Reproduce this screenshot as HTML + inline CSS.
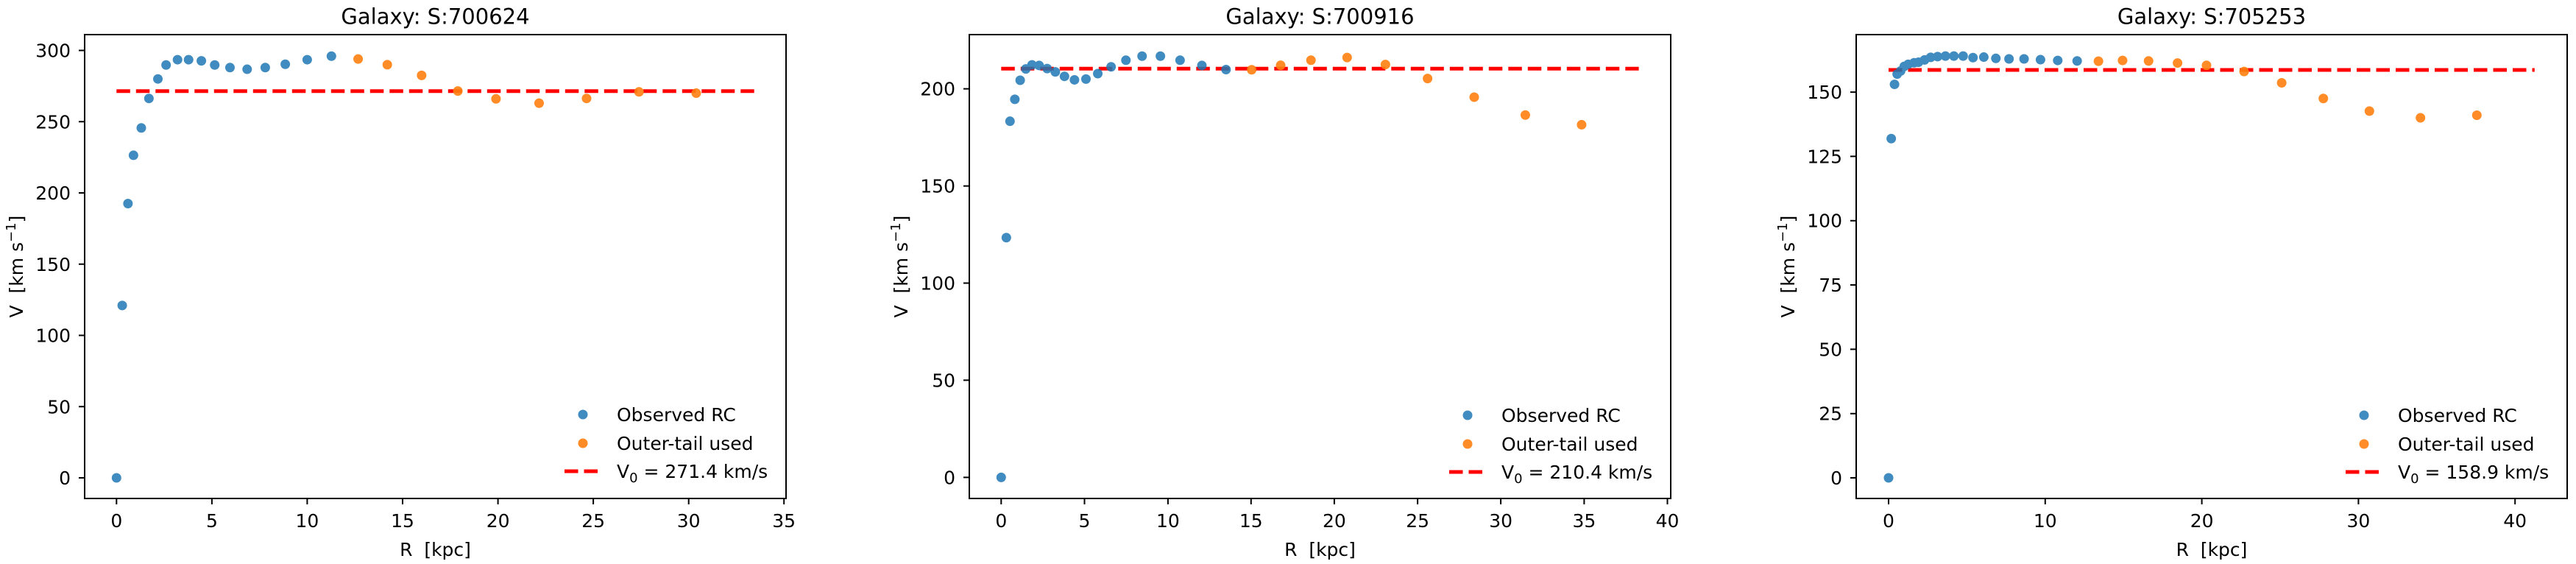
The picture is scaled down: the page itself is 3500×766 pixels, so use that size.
<!DOCTYPE html>
<html><head><meta charset="utf-8"><style>
html,body{margin:0;padding:0;background:#fff}
svg{display:block}
text{font-family:"DejaVu Sans","Liberation Sans",sans-serif;fill:#000}
.t{font-size:25px}
.ti{font-size:29px}
.dot{fill:none;stroke-linecap:round;stroke-width:13;vector-effect:non-scaling-stroke}
.b{stroke:#1f77b4;stroke-opacity:.85}
.o{stroke:#ff7f0e;stroke-opacity:.9}
.ax{fill:none;stroke:#000;stroke-width:2}
.tk{stroke:#000;stroke-width:2}
.red{stroke:#ff0000;stroke-width:5;stroke-dasharray:18.5 8}
</style></head><body>
<svg width="3500" height="766" viewBox="0 0 3500 766" xmlns="http://www.w3.org/2000/svg">
<rect width="3500" height="766" fill="#fff"/>

<!-- PANEL 1 -->
<line class="red" x1="158.3" y1="123.8" x2="1024.7" y2="123.8"/>
<g transform="matrix(25.91,0,0,-1.935,158.3,649)">
<path class="dot b" d="M0 0h0M0.3 121h0M0.6 192.5h0M0.89 226.4h0M1.3 245.6h0M1.7 266.3h0M2.17 280h0M2.6 289.8h0M3.2 293.5h0M3.78 293.5h0M4.45 292.7h0M5.15 289.8h0M5.95 288h0M6.85 286.8h0M7.8 288h0M8.85 290.3h0M10 293.5h0M11.27 296h0"/>
<path class="dot o" d="M12.67 294h0M14.2 290h0M16.0 282.5h0M17.9 271.5h0M19.9 266h0M22.16 263h0M24.65 266.3h0M27.4 270.9h0M30.4 270h0"/>
</g>
<rect class="ax" x="115" y="47" width="953" height="630"/>
<g class="tk">
<path d="M158.3 677v8M287.9 677v8M417.4 677v8M547 677v8M676.6 677v8M806.1 677v8M935.7 677v8M1065.2 677v8M115 649h-8M115 552.3h-8M115 455.5h-8M115 358.8h-8M115 262h-8M115 165.3h-8M115 68.5h-8"/>
</g>
<g class="t" text-anchor="middle">
<text x="158.3" y="716">0</text><text x="287.9" y="716">5</text><text x="417.4" y="716">10</text><text x="547" y="716">15</text><text x="676.6" y="716">20</text><text x="806.1" y="716">25</text><text x="935.7" y="716">30</text><text x="1065.2" y="716">35</text>
</g>
<g class="t" text-anchor="end">
<text x="96" y="658">0</text><text x="96" y="561.3">50</text><text x="96" y="464.5">100</text><text x="96" y="367.8">150</text><text x="96" y="271">200</text><text x="96" y="174.3">250</text><text x="96" y="77.5">300</text>
</g>
<text class="ti" x="591.5" y="32.5" text-anchor="middle">Galaxy: S:700624</text>
<text class="t" x="591.5" y="755" text-anchor="middle" xml:space="preserve">R  [kpc]</text>
<text class="t" transform="translate(31,362) rotate(-90)" text-anchor="middle" xml:space="preserve">V  [km s<tspan font-size="18" dy="-10">−1</tspan><tspan dy="10">]</tspan></text>
<g>
<circle cx="792" cy="563" r="6.5" fill="#1f77b4" fill-opacity=".85"/>
<circle cx="792" cy="602" r="6.5" fill="#ff7f0e" fill-opacity=".9"/>
<line class="red" x1="767" y1="640" x2="812" y2="640"/>
<text class="t" x="838" y="572">Observed RC</text>
<text class="t" x="838" y="611">Outer-tail used</text>
<text class="t" x="838" y="649">V<tspan font-size="18" dy="6">0</tspan><tspan dy="-6"> = 271.4 km/s</tspan></text>
</g>

<!-- PANEL 2 -->
<line class="red" x1="1360.3" y1="93.2" x2="2226.6" y2="93.2"/>
<g transform="matrix(22.63,0,0,-2.639,1360.3,648.4)">
<path class="dot b" d="M0 0h0M0.31 123.4h0M0.53 183.3h0M0.82 194.6h0M1.14 204.4h0M1.48 210.2h0M1.85 212.3h0M2.28 212h0M2.76 210.4h0M3.25 208.7h0M3.8 206.4h0M4.4 204.6h0M5.09 205h0M5.8 207.8h0M6.6 211.3h0M7.49 214.7h0M8.46 216.8h0M9.56 216.8h0M10.74 214.7h0M12.05 212h0M13.5 209.9h0"/>
<path class="dot o" d="M15.04 209.8h0M16.78 212.1h0M18.6 214.7h0M20.77 216.1h0M23.07 212.5h0M25.6 205.3h0M28.4 195.7h0M31.47 186.5h0M34.85 181.5h0"/>
</g>
<rect class="ax" x="1317" y="47" width="953" height="630"/>
<g class="tk">
<path d="M1360.3 677v8M1473.5 677v8M1586.9 677v8M1699.8 677v8M1812.9 677v8M1926.1 677v8M2039.1 677v8M2152.4 677v8M2265.5 677v8M1317 648.4h-8M1317 516.4h-8M1317 384.5h-8M1317 252.6h-8M1317 120.6h-8"/>
</g>
<g class="t" text-anchor="middle">
<text x="1360.3" y="716">0</text><text x="1473.5" y="716">5</text><text x="1586.9" y="716">10</text><text x="1699.8" y="716">15</text><text x="1812.9" y="716">20</text><text x="1926.1" y="716">25</text><text x="2039.1" y="716">30</text><text x="2152.4" y="716">35</text><text x="2265.5" y="716">40</text>
</g>
<g class="t" text-anchor="end">
<text x="1298" y="657.4">0</text><text x="1298" y="525.4">50</text><text x="1298" y="393.5">100</text><text x="1298" y="261.6">150</text><text x="1298" y="129.6">200</text>
</g>
<text class="ti" x="1793.5" y="32.5" text-anchor="middle">Galaxy: S:700916</text>
<text class="t" x="1793.5" y="755" text-anchor="middle" xml:space="preserve">R  [kpc]</text>
<text class="t" transform="translate(1233,362) rotate(-90)" text-anchor="middle" xml:space="preserve">V  [km s<tspan font-size="18" dy="-10">−1</tspan><tspan dy="10">]</tspan></text>
<g>
<circle cx="1994" cy="564" r="6.5" fill="#1f77b4" fill-opacity=".85"/>
<circle cx="1994" cy="603" r="6.5" fill="#ff7f0e" fill-opacity=".9"/>
<line class="red" x1="1969" y1="641" x2="2014" y2="641"/>
<text class="t" x="2040" y="573">Observed RC</text>
<text class="t" x="2040" y="612">Outer-tail used</text>
<text class="t" x="2040" y="650">V<tspan font-size="18" dy="6">0</tspan><tspan dy="-6"> = 210.4 km/s</tspan></text>
</g>

<!-- PANEL 3 -->
<line class="red" x1="2566" y1="95" x2="3443.8" y2="95"/>
<g transform="matrix(21.28,0,0,-3.493,2566,649)">
<path class="dot b" d="M0 0h0M0.17 131.9h0M0.38 153h0M0.55 157h0M0.77 158.2h0M1.0 160h0M1.25 160.8h0M1.63 161.4h0M1.91 161.6h0M2.3 162.5h0M2.69 163.5h0M3.13 163.8h0M3.63 164h0M4.17 164h0M4.76 164h0M5.39 163.4h0M6.08 163.6h0M6.85 163.1h0M7.69 162.9h0M8.65 162.9h0M9.7 162.6h0M10.8 162.3h0M12.04 162.1h0"/>
<path class="dot o" d="M13.4 162h0M14.94 162.3h0M16.6 162.1h0M18.45 161.3h0M20.3 160.4h0M22.7 158h0M25.1 153.6h0M27.76 147.5h0M30.7 142.6h0M33.96 140h0M37.56 141h0"/>
</g>
<rect class="ax" x="2522" y="47" width="966" height="630"/>
<g class="tk">
<path d="M2566 677v8M2778.8 677v8M2991.6 677v8M3204.4 677v8M3417.2 677v8M2522 649h-8M2522 561.7h-8M2522 474.4h-8M2522 387h-8M2522 299.7h-8M2522 212.4h-8M2522 125.1h-8"/>
</g>
<g class="t" text-anchor="middle">
<text x="2566" y="716">0</text><text x="2778.8" y="716">10</text><text x="2991.6" y="716">20</text><text x="3204.4" y="716">30</text><text x="3417.2" y="716">40</text>
</g>
<g class="t" text-anchor="end">
<text x="2503" y="658">0</text><text x="2503" y="570.7">25</text><text x="2503" y="483.4">50</text><text x="2503" y="396">75</text><text x="2503" y="308.7">100</text><text x="2503" y="221.4">125</text><text x="2503" y="134.1">150</text>
</g>
<text class="ti" x="3005" y="32.5" text-anchor="middle">Galaxy: S:705253</text>
<text class="t" x="3005" y="755" text-anchor="middle" xml:space="preserve">R  [kpc]</text>
<text class="t" transform="translate(2438,362) rotate(-90)" text-anchor="middle" xml:space="preserve">V  [km s<tspan font-size="18" dy="-10">−1</tspan><tspan dy="10">]</tspan></text>
<g>
<circle cx="3212" cy="564" r="6.5" fill="#1f77b4" fill-opacity=".85"/>
<circle cx="3212" cy="603" r="6.5" fill="#ff7f0e" fill-opacity=".9"/>
<line class="red" x1="3187" y1="641" x2="3232" y2="641"/>
<text class="t" x="3258" y="573">Observed RC</text>
<text class="t" x="3258" y="612">Outer-tail used</text>
<text class="t" x="3258" y="650">V<tspan font-size="18" dy="6">0</tspan><tspan dy="-6"> = 158.9 km/s</tspan></text>
</g>
</svg>
</body></html>
